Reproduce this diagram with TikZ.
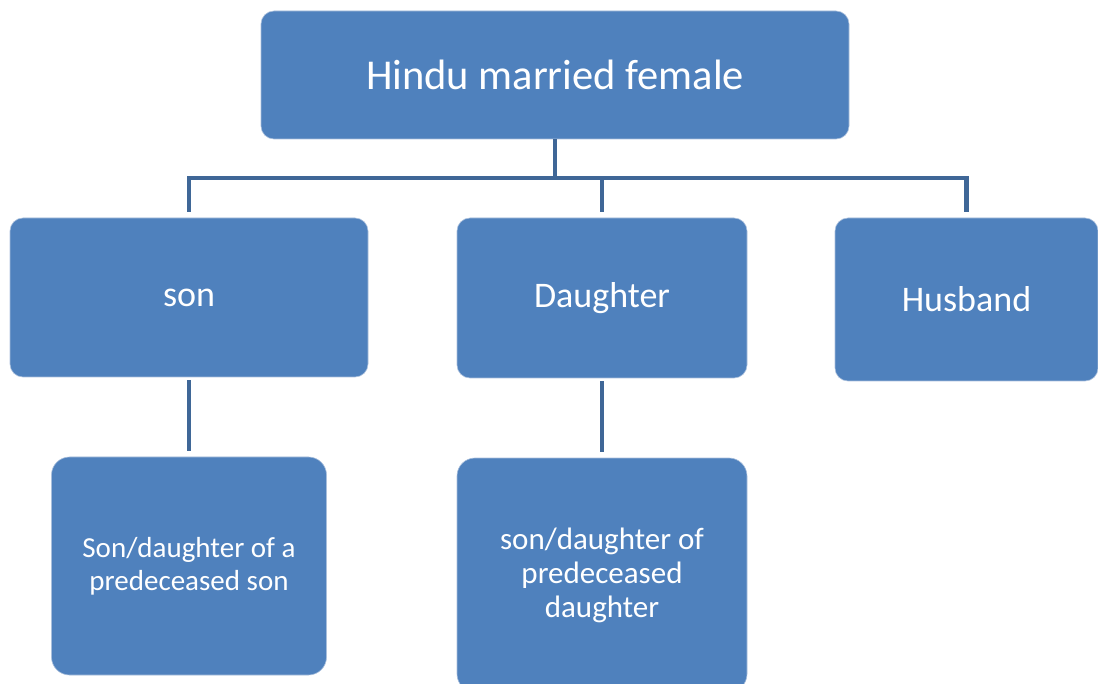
\documentclass[tikz,border=0pt]{standalone}
\usepackage{fontspec}
\setmainfont{Carlito}
\definecolor{boxfill}{HTML}{4F81BD}
\definecolor{boxedge}{HTML}{A9BFDC}
\definecolor{conncol}{HTML}{3F6797}
\begin{document}
\begin{tikzpicture}[x=1pt,y=-1pt,
  box/.style={rectangle, rounded corners=13pt, fill=boxfill, draw=boxedge, line width=0.6pt,
    text=white, align=center, inner sep=0pt},
  conn/.style={draw=conncol, line width=4.5pt}]
\useasboundingbox (0,0) rectangle (1098,684);
\node[box, minimum width=588pt, minimum height=128pt, font=\fontsize{42.5}{48}\selectfont] (top) at (555,75) {Hindu married female};
\node[box, minimum width=358pt, minimum height=159pt, font=\fontsize{36}{42}\selectfont] (son) at (189,297.5) {\raisebox{-3pt}{son}};
\node[box, minimum width=290pt, minimum height=160pt, font=\fontsize{36}{42}\selectfont] (dau) at (602,298) {\raisebox{-2pt}{Daughter}};
\node[box, minimum width=263pt, minimum height=163pt, font=\fontsize{36}{42}\selectfont] (hus) at (966.5,299.5) {Husband};
\node[box, rounded corners=18pt, minimum width=275pt, minimum height=218pt, font=\fontsize{29}{33}\selectfont] (sonsub) at (189,566) {Son/daughter of a\\predeceased son};
\node[box, rounded corners=18pt, minimum width=290pt, minimum height=234pt, font=\fontsize{31}{34}\selectfont] (dausub) at (602,575) {son/daughter of\\predeceased\\daughter};
\coordinate (bus) at (555,178);
\draw[conn] (top.south) -- (top.south |- bus);
\draw[conn, shorten <=6pt] (son.north) |- (bus);
\draw[conn, shorten >=6pt] (bus) -| (hus.north);
\draw[conn, shorten <=6pt] (dau.north) -- (dau.north |- bus);
\draw[conn, shorten <=3pt, shorten >=6pt] (son.south) -- (sonsub.north);
\draw[conn, shorten <=3pt, shorten >=6pt] (dau.south) -- (dausub.north);
\end{tikzpicture}
\end{document}
